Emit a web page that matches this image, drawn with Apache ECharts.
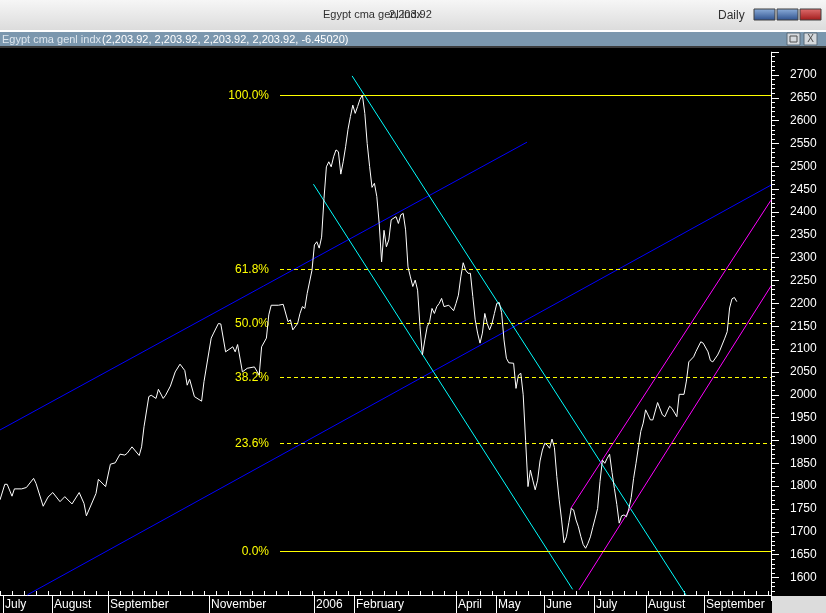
<!DOCTYPE html>
<html><head><meta charset="utf-8">
<script src="https://cdn.jsdelivr.net/npm/echarts@6/dist/echarts.min.js"></script>
<style>html,body{margin:0;padding:0;background:#000;overflow:hidden}#c{width:826px;height:613px}</style>
</head><body><div id="c"></div><script>
// ---- data (trading-day index, close) ----
const days = [0,2,3,5,6,9,11,14,15,18,20,22,25,27,30,33,35,36,40,41,44,46,48,50,52,53,55,58,59,60,62,63,65,66,68,69,71,73,75,77,78,79,81,84,85,88,89,91,92,94,97,98,99,101,103,106,108,109,111,112,113,116,118,120,121,122,124,125,126,127,128,130,131,132,133,134,135,136,137,138,139,140,141,142,143,144,145,146,147,148,149,150,151,152,153,154,155,156,157,158,159,160,161,162,163,165,166,167,168,169,170,171,172,173,174,175,176,177,178,179,180,181,182,183,184,185,187,189,190,191,192,193,194,195,196,197,198,199,200,201,202,203,204,205,206,207,208,209,210,211,212,214,215,216,217,218,219,220,221,222,223,224,225,226,227,228,229,230,231,232,233,234,235,236,237,238,239,240,241,242,243,244,245,246,247,248,249,250,251,252,253,254,255,256,257,258,259,260,261,262,263,264,265,266,267,268,269,271,272,274,276,277,279,280,282,283,285,286,287,289,290,292,293,295,296,297,299,300,302,303,304,305,306,307];
const closes = [1770,1804,1804,1778,1794,1794,1797,1817,1806,1756,1776,1786,1766,1777,1761,1786,1762,1735,1784,1815,1799,1848,1851,1870,1868,1872,1886,1867,1886,1930,1996,1999,1992,2012,1992,1999,2019,2050,2067,2053,2021,2034,1996,1986,2029,2124,2135,2156,2155,2094,2105,2094,2110,2050,2058,2061,2043,2105,2124,2175,2196,2196,2198,2160,2164,2142,2156,2178,2193,2189,2222,2273,2328,2335,2321,2345,2430,2499,2510,2499,2521,2536,2532,2483,2510,2543,2581,2609,2634,2616,2631,2647,2656,2616,2550,2500,2454,2463,2434,2375,2291,2360,2324,2339,2383,2390,2375,2394,2397,2361,2280,2258,2237,2251,2229,2149,2087,2120,2149,2160,2189,2178,2193,2200,2211,2193,2196,2184,2200,2218,2258,2289,2273,2266,2266,2215,2164,2135,2113,2135,2178,2156,2142,2156,2178,2200,2202,2180,2120,2080,2070,2069,2014,2043,2047,2000,1900,1799,1835,1813,1792,1813,1855,1879,1894,1890,1883,1903,1885,1821,1770,1726,1676,1689,1720,1751,1748,1726,1711,1690,1672,1664,1675,1689,1710,1730,1751,1810,1857,1850,1861,1870,1830,1795,1760,1719,1735,1737,1733,1750,1775,1817,1850,1885,1920,1938,1967,1945,1945,1983,1956,1952,1975,1970,1952,2001,2001,2030,2072,2083,2095,2116,2113,2094,2075,2072,2087,2098,2124,2138,2190,2210,2213,2203.92];

const monthLabels = ['July','August','September','November','2006','February','April','May','June','July','August','September'];
const monthStarts = [1.1,21.5,45.1,87.1,130.7,147.4,189.9,206.5,226.5,247.6,269.0,293.2];
const dayMax = 321.25;

const fibHigh = 2656, fibLow = 1658, fibStartDay = 116.7;
const fibRatios = [0, 0.236, 0.382, 0.5, 0.618, 1];
const fibLabels = ['0.0%','23.6%','38.2%','50.0%','61.8%','100.0%'];

const blueUpper = [[0,1923],[219.6,2553]];
const blueLower = [[11.4,1562],[321.25,2459]];
const cyanUpper = [[146.7,2698],[285.8,1562]];
const cyanLower = [[130.6,2461],[238.6,1574]];
const magentaUpper = [[237.8,1751],[321.25,2426]];
const magentaLower = [[241.25,1573],[321.25,2238]];

const yMin = 1550, yMax = 2750, yStep = 50;

// ---- chart ----
const chart = echarts.init(document.getElementById('c'), null, {renderer:'canvas'});
const F = '"Liberation Sans", Arial, sans-serif';
function trend(data, color){
  return {type:'line', data:data, xAxisIndex:0, yAxisIndex:0, symbol:'none', silent:true,
    lineStyle:{color:color, width:1}, animation:false, z:3};
}
const fibData = fibRatios.map((r,i)=>[fibStartDay, fibLow + r*(fibHigh-fibLow), i]);

chart.setOption({
  backgroundColor:'#000',
  animation:false,
  grid:[
    {left:0, width:771, top:52.16, height:548.18},
    {left:0, width:771, top:594, height:1}
  ],
  xAxis:[
    {gridIndex:0, type:'value', min:0, max:dayMax, show:false},
    {gridIndex:1, type:'value', min:0, max:dayMax, interval:5, position:'bottom',
     axisLine:{show:true, onZero:false, lineStyle:{color:'#fff', width:1}},
     axisTick:{show:true, inside:true, length:4, lineStyle:{color:'#fff'}},
     axisLabel:{show:false}, splitLine:{show:false}}
  ],
  yAxis:[
    {gridIndex:0, type:'value', position:'right', min:yMin, max:yMax, interval:yStep,
     axisLine:{show:true, onZero:false, lineStyle:{color:'#fff', width:1}},
     axisTick:{show:true, length:8, lineStyle:{color:'#fff'}},
     minorTick:{show:true, splitNumber:5, length:4, lineStyle:{color:'#fff'}},
     axisLabel:{color:'#fff', fontFamily:'Liberation Sans', fontSize:12, margin:19, showMinLabel:false, showMaxLabel:false,
       formatter:function(v){return String(v);}},
     splitLine:{show:false}, minorSplitLine:{show:false}},
    {gridIndex:1, type:'value', min:0, max:1, show:false}
  ],
  series:[
    trend(blueUpper,'#0000ff'),
    trend(blueLower,'#0000ff'),
    trend(cyanUpper,'#00ffff'),
    trend(cyanLower,'#00ffff'),
    trend(magentaUpper,'#ff00ff'),
    trend(magentaLower,'#ff00ff'),
    {type:'custom', xAxisIndex:0, yAxisIndex:0, data:fibData, z:4, silent:true, clip:false,
     renderItem:function(params, api){
       const v = api.value(1), i = api.value(2);
       const p1 = api.coord([api.value(0), v]);
       const p2 = api.coord([dayMax, v]);
       const y = Math.round(p1[1]) + 0.5;
       const solid = (i === 0 || i === fibRatios.length-1);
       return {type:'group', children:[
         {type:'line', shape:{x1:Math.round(p1[0]), y1:y, x2:p2[0], y2:y},
          style:{stroke:'#ffff00', lineWidth:1, lineDash: solid ? null : [4,3]}},
         {type:'text', style:{text:fibLabels[i], x:Math.round(p1[0])-11, y:y, align:'right', verticalAlign:'middle',
          fill:'#ffff00', font:'12px ' + F}}
       ]};
     }},
    {type:'line', xAxisIndex:0, yAxisIndex:0, data:days.map((d,i)=>[d, closes[i]]), symbol:'none',
     lineStyle:{color:'#ffffff', width:1}, z:5, silent:true},
    {type:'custom', xAxisIndex:1, yAxisIndex:1, data:monthStarts.map((d,i)=>[d, 0, i]), clip:false, silent:true, z:6,
     renderItem:function(params, api){
       const p = api.coord([api.value(0), 0]);
       const x = Math.round(p[0]) + 0.5;
       const y = Math.round(p[1]);
       return {type:'group', children:[
         {type:'line', shape:{x1:x, y1:y, x2:x, y2:y+19}, style:{stroke:'#fff', lineWidth:1}},
         {type:'text', style:{text:monthLabels[api.value(2)], x:x+1.5, y:y+4, verticalAlign:'top', fill:'#fff', font:'12px ' + F}}
       ]};
     }}
  ],
  graphic:[
    {type:'rect', shape:{x:0,y:0,width:826,height:30}, z:100,
     style:{fill:new echarts.graphic.LinearGradient(0,0,0,1,[{offset:0,color:'#f6f6f6'},{offset:1,color:'#dcdcdc'}])}},
    {type:'rect', shape:{x:0,y:30,width:826,height:2}, z:100, style:{fill:'#ffffff'}},
    {type:'rect', shape:{x:0,y:32,width:826,height:14}, z:100, style:{fill:'#7b97ae'}},
    {type:'rect', shape:{x:0,y:46,width:826,height:2}, z:100, style:{fill:'#3a3a3a'}},
    {type:'text', x:323, y:15, z:101, style:{text:'Egypt cma genl indx', fill:'#303030', font:'11px ' + F, verticalAlign:'middle'}},
    {type:'text', x:389, y:15, z:101, style:{text:'2,203.92', fill:'#303030', font:'11px ' + F, verticalAlign:'middle'}},
    {type:'text', x:718, y:16, z:101, style:{text:'Daily', fill:'#303030', font:'12px ' + F, verticalAlign:'middle'}},
    {type:'rect', shape:{x:754,y:9,width:21,height:11}, z:101,
     style:{fill:new echarts.graphic.LinearGradient(0,0,0,1,[{offset:0,color:'#8fb0dc'},{offset:1,color:'#2c4f8c'}]), stroke:'#404040', lineWidth:1}},
    {type:'rect', shape:{x:777,y:9,width:21,height:11}, z:101,
     style:{fill:new echarts.graphic.LinearGradient(0,0,0,1,[{offset:0,color:'#8fb0dc'},{offset:1,color:'#2c4f8c'}]), stroke:'#404040', lineWidth:1}},
    {type:'rect', shape:{x:800,y:9,width:21,height:11}, z:101,
     style:{fill:new echarts.graphic.LinearGradient(0,0,0,1,[{offset:0,color:'#e07070'},{offset:1,color:'#a01818'}]), stroke:'#404040', lineWidth:1}},
    {type:'text', x:2, y:39.5, z:101, style:{text:'Egypt cma genl indx', fill:'#dde6ee', font:'11px ' + F, verticalAlign:'middle'}},
    {type:'text', x:102, y:39.5, z:101, style:{text:'(2,203.92, 2,203.92, 2,203.92, 2,203.92, -6.45020)', fill:'#ffffff', font:'11px ' + F, verticalAlign:'middle'}},
    {type:'rect', shape:{x:787,y:33,width:13,height:12}, z:101, style:{fill:'#d4d8dc', stroke:'#5a6a78', lineWidth:1}},
    {type:'rect', shape:{x:790,y:36,width:7,height:6}, z:102, style:{fill:'none', stroke:'#505050', lineWidth:1}},
    {type:'rect', shape:{x:804,y:33,width:13,height:12}, z:101, style:{fill:'#d4d8dc', stroke:'#5a6a78', lineWidth:1}},
    {type:'text', x:810.5, y:39.5, z:102, style:{text:'X', fill:'#505050', font:'10px ' + F, align:'center', verticalAlign:'middle'}},
    {type:'rect', shape:{x:772,y:596,width:54,height:17}, z:100, style:{fill:'#dcdcdc'}}
  ]
});
</script></body></html>
